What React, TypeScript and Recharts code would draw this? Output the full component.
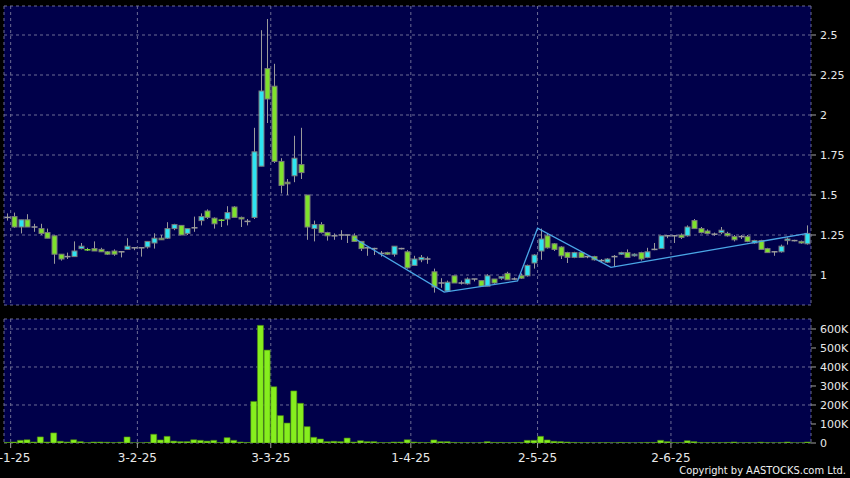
import React from 'react';
import { ComposedChart, BarChart, Bar, Line, XAxis, YAxis, CartesianGrid } from 'recharts';

// Daily candles (index 0 = last session of Dec 2024)
const opens = [
  1.36, 1.365, 1.30, 1.345, 1.30, 1.29, 1.265, 1.245, 1.13, 1.115,
  1.115, 1.165, 1.16, 1.165, 1.16, 1.145, 1.15, 1.145, 1.16, 1.17,
  1.17, 1.175, 1.20, 1.23, 1.23, 1.29, 1.31, 1.26, 1.295, 1.34,
  1.40, 1.355, 1.345, 1.35, 1.425, 1.36, 1.335, 1.36, 1.68, 2.29,
  2.18, 1.71, 1.58, 1.62, 1.69, 1.50, 1.29, 1.315, 1.265, 1.245,
  1.25, 1.25, 1.245, 1.21, 1.17, 1.165, 1.135, 1.14, 1.13, 1.165,
  1.145, 1.06, 1.095, 1.10, 1.02, 0.95, 0.90, 0.995, 0.95, 0.945,
  0.975, 0.965, 0.93, 0.975, 0.98, 1.01, 0.975, 0.995, 0.995, 1.075,
  1.15, 1.245, 1.195, 1.175, 1.14, 1.11, 1.14, 1.115, 1.115, 1.09,
  1.08, 1.115, 1.13, 1.14, 1.12, 1.14, 1.11, 1.16, 1.165, 1.245,
  1.245, 1.25, 1.245, 1.34, 1.29, 1.275, 1.255, 1.265, 1.26, 1.24,
  1.24, 1.24, 1.20, 1.215, 1.165, 1.145, 1.145, 1.215, 1.215, 1.21,
  1.195,
];
const highs = [
  1.385, 1.39, 1.345, 1.38, 1.32, 1.32, 1.29, 1.25, 1.13, 1.14,
  1.21, 1.20, 1.17, 1.21, 1.17, 1.15, 1.16, 1.15, 1.23, 1.17,
  1.17, 1.21, 1.26, 1.25, 1.33, 1.32, 1.31, 1.29, 1.365, 1.385,
  1.41, 1.36, 1.35, 1.43, 1.43, 1.365, 1.35, 1.92, 2.53, 2.60,
  2.32, 1.73, 1.60, 1.87, 1.92, 1.50, 1.34, 1.33, 1.27, 1.26,
  1.28, 1.25, 1.26, 1.21, 1.17, 1.17, 1.15, 1.145, 1.18, 1.17,
  1.155, 1.12, 1.125, 1.115, 1.04, 0.98, 0.965, 0.995, 0.965, 0.985,
  0.975, 0.965, 1.005, 0.975, 0.99, 1.02, 0.985, 1.01, 1.065, 1.13,
  1.29, 1.26, 1.20, 1.18, 1.145, 1.145, 1.145, 1.12, 1.12, 1.10,
  1.105, 1.125, 1.145, 1.16, 1.135, 1.145, 1.17, 1.20, 1.245, 1.25,
  1.25, 1.26, 1.31, 1.35, 1.30, 1.285, 1.265, 1.30, 1.27, 1.25,
  1.25, 1.25, 1.22, 1.22, 1.17, 1.15, 1.19, 1.235, 1.22, 1.215,
  1.31,
];
const lows = [
  1.34, 1.295, 1.26, 1.30, 1.27, 1.25, 1.23, 1.07, 1.09, 1.10,
  1.115, 1.16, 1.15, 1.15, 1.145, 1.125, 1.12, 1.11, 1.16, 1.155,
  1.115, 1.165, 1.165, 1.22, 1.225, 1.28, 1.25, 1.25, 1.27, 1.31,
  1.35, 1.29, 1.30, 1.31, 1.36, 1.30, 1.31, 1.35, 1.68, 1.95,
  1.70, 1.51, 1.50, 1.58, 1.60, 1.22, 1.21, 1.26, 1.215, 1.22,
  1.22, 1.20, 1.21, 1.15, 1.12, 1.125, 1.115, 1.125, 1.115, 1.16,
  1.04, 1.06, 1.08, 1.07, 0.89, 0.92, 0.895, 0.95, 0.94, 0.94,
  0.96, 0.93, 0.93, 0.945, 0.97, 0.97, 0.97, 0.975, 0.99, 1.04,
  1.095, 1.165, 1.15, 1.10, 1.075, 1.105, 1.11, 1.105, 1.09, 1.08,
  1.075, 1.05, 1.125, 1.11, 1.115, 1.09, 1.105, 1.155, 1.165, 1.23,
  1.20, 1.225, 1.24, 1.29, 1.26, 1.255, 1.245, 1.255, 1.24, 1.21,
  1.225, 1.205, 1.195, 1.16, 1.14, 1.12, 1.14, 1.19, 1.21, 1.195,
  1.19,
];
const closes = [
  1.36, 1.30, 1.345, 1.30, 1.30, 1.26, 1.23, 1.13, 1.10, 1.115,
  1.15, 1.18, 1.155, 1.15, 1.145, 1.13, 1.13, 1.145, 1.18, 1.17,
  1.17, 1.21, 1.23, 1.22, 1.29, 1.315, 1.25, 1.29, 1.295, 1.365,
  1.36, 1.32, 1.34, 1.39, 1.36, 1.35, 1.335, 1.77, 2.15, 2.10,
  1.71, 1.56, 1.57, 1.73, 1.64, 1.30, 1.315, 1.265, 1.245, 1.245,
  1.25, 1.25, 1.21, 1.165, 1.17, 1.165, 1.135, 1.13, 1.18, 1.165,
  1.045, 1.10, 1.11, 1.10, 0.925, 0.95, 0.955, 0.95, 0.95, 0.975,
  0.975, 0.93, 0.995, 0.95, 0.99, 0.97, 0.975, 0.98, 1.06, 1.125,
  1.225, 1.17, 1.16, 1.12, 1.11, 1.14, 1.11, 1.115, 1.095, 1.09,
  1.10, 1.115, 1.14, 1.11, 1.13, 1.10, 1.145, 1.16, 1.245, 1.245,
  1.245, 1.235, 1.30, 1.29, 1.265, 1.26, 1.255, 1.28, 1.245, 1.22,
  1.24, 1.21, 1.215, 1.16, 1.14, 1.145, 1.18, 1.225, 1.215, 1.20,
  1.26,
];
const volumes = [
  3000, 5000, 14000, 17000, 5000, 32000, 5000, 53000, 9000, 5000,
  17000, 7000, 2000, 5000, 5000, 4000, 2000, 4000, 32000, 1000,
  1000, 3000, 46000, 16000, 35000, 10000, 7000, 7000, 17000, 14000,
  10000, 14000, 3000, 28000, 14000, 5000, 3000, 219000, 619000, 489000,
  296000, 144000, 105000, 274000, 209000, 86000, 30000, 21000, 7000, 9000,
  7000, 26000, 5000, 12000, 7000, 7000, 2000, 2000, 5000, 5000,
  17000, 5000, 3000, 2000, 16000, 7000, 7000, 3000, 2000, 2000,
  1000, 2000, 7000, 3000, 3000, 2000, 2000, 3000, 14000, 14000,
  35000, 16000, 9000, 7000, 5000, 3000, 2000, 2000, 1000, 2000,
  2000, 1000, 3000, 2000, 1000, 2000, 3000, 3000, 14000, 7000,
  2000, 2000, 12000, 7000, 2000, 2000, 2000, 2000, 3000, 5000,
  1000, 2000, 1000, 4000, 2000, 1000, 2000, 5000, 1000, 1000,
  5000,
];

// Month-start sessions and their labels
const tickDays = [1, 20, 40, 61, 80, 100];
const tickLabels = ['2-1-25', '3-2-25', '3-3-25', '1-4-25', '2-5-25', '2-6-25'];

// Zig-zag trend line pivots
const trendDays = [52, 65.5, 76.5, 79.5, 90.5, 120];
const trendValues = [1.23, 0.893, 0.9625, 1.292, 1.048, 1.26];

const priceTicks = [1, 1.25, 1.5, 1.75, 2, 2.25, 2.5];
const volumeTicks = [0, 100000, 200000, 300000, 400000, 500000, 600000];

const CYAN = '#2ee4f2';
const GREEN = '#7ee22c';
const GREY = '#9a9a9a';
const BG = '#00004a';
const GRID = '#6c6c94';
const FONT = 'DejaVu Sans, Verdana, sans-serif';

const candles = opens.map((o, i) => ({
  i,
  o,
  h: highs[i],
  l: lows[i],
  c: closes[i],
  hl: [lows[i], highs[i]],
  vol: volumes[i],
}));

const trend = trendDays.map((d, k) => ({ i: d, t: trendValues[k] }));

const xTicks = tickDays.map((d) => d - 0.5);
const xLabel = (v: number) => {
  const k = xTicks.findIndex((t) => Math.abs(t - v) < 1e-6);
  return k >= 0 ? tickLabels[k] : '';
};

const Candle = (props: any) => {
  const { x, y, width, height, payload } = props;
  if (!payload) return null;
  const { o, h, l, c } = payload;
  const cx = Math.round(x + width / 2) + 0.5;
  const span = h - l;
  const py = (v: number) => (span > 0 ? y + ((h - v) / span) * height : y);
  const top = py(Math.max(o, c));
  const bot = py(Math.min(o, c));
  const bw = 5;
  const color = c > o ? CYAN : c < o ? GREEN : GREY;
  const bodyH = Math.abs(bot - top);
  return (
    <g>
      <line x1={cx} x2={cx} y1={Math.min(py(h), py(l))} y2={Math.max(py(h), py(l))} stroke={GREY} strokeWidth={1} />
      {bodyH < 1.5 ? (
        <line x1={cx - bw / 2 - 0.5} x2={cx + bw / 2 + 0.5} y1={(top + bot) / 2} y2={(top + bot) / 2} stroke={c === o ? GREY : color} strokeWidth={1.5} />
      ) : (
        <rect x={cx - bw / 2} y={Math.min(top, bot)} width={bw} height={bodyH} fill={color} stroke="#7a7a7a" strokeWidth={1} />
      )}
    </g>
  );
};

const yTickStyle = { fill: '#e8e8e8', fontSize: 11, fontFamily: FONT };

export default function App() {
  return (
    <div style={{ position: 'absolute', left: 0, top: 0, width: 850, height: 478, background: '#000', overflow: 'hidden' }}>
      <div style={{ position: 'absolute', left: 0, top: 0 }}>
        <ComposedChart width={850} height={310} data={candles} margin={{ top: 6, right: 0, bottom: 5, left: 4 }}>
          <CartesianGrid fill={BG} stroke={GRID} strokeDasharray="3 3" vertical horizontal />
          <XAxis dataKey="i" type="number" domain={[-0.5, 120.5]} ticks={xTicks} hide allowDataOverflow />
          <YAxis
            orientation="right"
            width={39}
            domain={[0.8125, 2.68125]}
            ticks={priceTicks}
            allowDataOverflow
            axisLine={false}
            tickLine={{ stroke: '#a0a0a0' }}
            tickSize={5}
            tickMargin={4}
            tick={yTickStyle}
            tickFormatter={(v: number) => String(v)}
          />
          <Bar dataKey="hl" barSize={5} shape={<Candle />} isAnimationActive={false} />
          <Line data={trend} dataKey="t" stroke="#4aa6e6" strokeWidth={1.3} dot={false} isAnimationActive={false} connectNulls />
        </ComposedChart>
      </div>
      <div style={{ position: 'absolute', left: 0, top: 0 }}>
        <BarChart width={850} height={478} data={candles} margin={{ top: 319, right: 0, bottom: 5, left: 4 }}>
          <CartesianGrid fill={BG} stroke={GRID} strokeDasharray="3 3" vertical horizontal />
          <XAxis
            dataKey="i"
            type="number"
            domain={[-0.5, 120.5]}
            ticks={xTicks}
            allowDataOverflow
            height={30}
            axisLine={false}
            tickLine={{ stroke: '#a0a0a0' }}
            tickSize={5}
            tickMargin={5}
            tick={{ fill: '#e8e8e8', fontSize: 12, fontFamily: FONT }}
            tickFormatter={xLabel}
            interval={0}
          />
          <YAxis
            orientation="right"
            width={39}
            domain={[0, 652600]}
            ticks={volumeTicks}
            allowDataOverflow
            axisLine={false}
            tickLine={{ stroke: '#a0a0a0' }}
            tickSize={5}
            tickMargin={4}
            tick={yTickStyle}
            tickFormatter={(v: number) => (v === 0 ? '0' : `${v / 1000}K`)}
          />
          <Bar dataKey="vol" barSize={6} fill="#86ee1e" stroke="#4c8a10" strokeWidth={0.6} isAnimationActive={false} />
        </BarChart>
      </div>
      <div style={{ position: 'absolute', right: 4, top: 464, color: '#f0f0f0', fontSize: 11, fontFamily: 'DejaVu Sans Condensed, DejaVu Sans, sans-serif', whiteSpace: 'nowrap' }}>
        Copyright by AASTOCKS.com Ltd.
      </div>
    </div>
  );
}
